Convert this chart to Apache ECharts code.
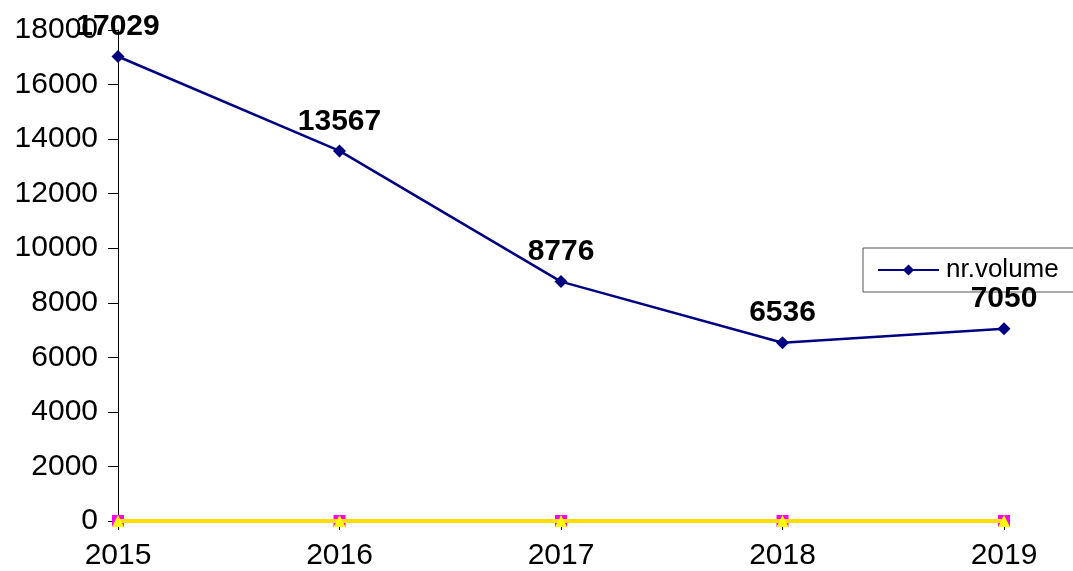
<!DOCTYPE html>
<html>
<head>
<meta charset="utf-8">
<script src="https://cdn.jsdelivr.net/npm/echarts@6/dist/echarts.min.js"></script>
<style>
  html, body { margin: 0; padding: 0; background: #fff; }
  #chart { width: 1073px; height: 571px; }
</style>
</head>
<body>
<div id="chart"></div>
<script>
const years = ['2015', '2016', '2017', '2018', '2019'];
const volume = [17029, 13567, 8776, 6536, 7050];
const seriesB = [0, 0, 0, 0, 0];
const seriesC = [0, 0, 0, 0, 0];

const font = '"Liberation Sans", Arial, sans-serif';
const chart = echarts.init(document.getElementById('chart'), null, { renderer: 'canvas' });

chart.setOption({
  animation: false,
  grid: { left: 118, right: 69, top: 30, bottom: 50 },
  legend: {
    data: ['nr.volume'],
    left: 863,
    top: 248,
    orient: 'vertical',
    padding: [9, 80, 9, 14],
    itemWidth: 61,
    itemHeight: 14,
    itemGap: 0,
    borderColor: '#555',
    borderWidth: 1,
    textStyle: { fontFamily: font, fontSize: 26, color: '#000', padding: [0, 0, 0, 2] }
  },
  xAxis: {
    type: 'category',
    data: years,
    boundaryGap: false,
    axisLine: { lineStyle: { color: '#000', width: 1 } },
    axisTick: { alignWithLabel: true, length: 9, lineStyle: { color: '#000' } },
    axisLabel: { color: '#000', fontFamily: font, fontSize: 30, margin: 20 },
    splitLine: { show: false }
  },
  yAxis: {
    type: 'value',
    min: 0,
    max: 18000,
    interval: 2000,
    axisLine: { show: true, lineStyle: { color: '#000', width: 1 } },
    axisTick: { show: true, length: 10, lineStyle: { color: '#000' } },
    axisLabel: { color: '#000', fontFamily: font, fontSize: 30, margin: 20, formatter: (v) => String(v) },
    splitLine: { show: false }
  },
  series: [
    {
      name: 'seriesB',
      type: 'line',
      data: seriesB,
      symbol: 'rect',
      symbolSize: 12,
      itemStyle: { color: '#ff00ff' },
      lineStyle: { color: '#ff00ff', width: 2 },
      z: 2
    },
    {
      name: 'seriesC',
      type: 'line',
      data: seriesC,
      symbol: 'triangle',
      symbolSize: 12,
      itemStyle: { color: '#ffff00' },
      lineStyle: { color: '#ffdd00', width: 4 },
      z: 3
    },
    {
      name: 'nr.volume',
      type: 'line',
      data: volume,
      symbol: 'diamond',
      symbolSize: 13,
      itemStyle: { color: '#000080' },
      lineStyle: { color: '#000080', width: 2.5 },
      label: {
        show: true,
        position: 'top',
        distance: 8,
        color: '#000',
        fontFamily: font,
        fontSize: 30,
        fontWeight: 'bold'
      },
      z: 4
    }
  ]
});
</script>
</body>
</html>
